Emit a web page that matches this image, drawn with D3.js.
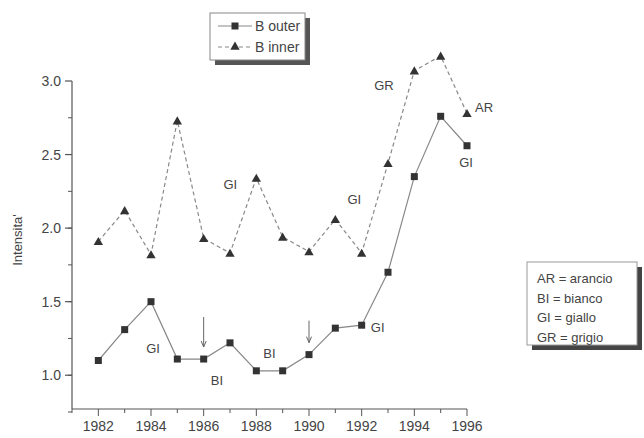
<!DOCTYPE html>
<html>
<head>
<meta charset="UTF-8">
<title>Intensita B outer / B inner</title>
<script src="https://cdn.jsdelivr.net/npm/d3@7"></script>
<style>
  body { margin: 0; background: #fff; }
  text { font-family: Arial, "Liberation Sans", sans-serif; fill: #444; }
</style>
</head>
<body>
<svg id="chart" width="644" height="438"></svg>
<script>
// data
var years = [1982, 1983, 1984, 1985, 1986, 1987, 1988, 1989, 1990, 1991, 1992, 1993, 1994, 1995, 1996];
var bOuter = [1.10, 1.31, 1.50, 1.11, 1.11, 1.22, 1.03, 1.03, 1.14, 1.32, 1.34, 1.70, 2.35, 2.76, 2.56];
var bInner = [1.91, 2.12, 1.82, 2.73, 1.93, 1.83, 2.34, 1.94, 1.84, 2.06, 1.83, 2.44, 3.07, 3.17, 2.78];
var yTicks = [1.0, 1.5, 2.0, 2.5, 3.0];
var xTicks = [1982, 1984, 1986, 1988, 1990, 1992, 1994, 1996];

// colour annotations: [year, value, text, dx, dy]
var notes = [
  [1984, 1.50, "GI", 2, 46],
  [1987, 1.22, "BI", -13, 37],
  [1988.5, 1.03, "BI", 0, -18],
  [1992, 1.34, "GI", 16, 2],
  [1988, 2.34, "GI", -26, 6],
  [1991, 2.06, "GI", 19, -20],
  [1993, 2.44, "GR", -4, -78],
  [1996, 2.78, "AR", 17, -6],
  [1996, 2.56, "GI", -1, 16]
];
var arrows = [[1986, 1.11], [1990, 1.14]];
var legendKey = ["AR = arancio", "BI = bianco", "GI = giallo", "GR = grigio"];

var svg = d3.select("#chart");
var x = d3.scaleLinear().domain([1981, 1996]).range([72, 467]);
var y = d3.scaleLinear().domain([0.75, 3.0]).range([412, 81]);
var ax = 409; // x axis line position

// y axis
var gy = svg.append("g").attr("transform", "translate(72,0)");
gy.append("line").attr("x1", 0).attr("x2", 0).attr("y1", y(3.0)).attr("y2", ax)
  .attr("stroke", "#555").attr("stroke-width", 1.2);
gy.selectAll(".minor").data(d3.range(0.75, 3.0, 0.25)).enter().append("line")
  .attr("x1", -4).attr("x2", 0).attr("y1", function (d) { return y(d); }).attr("y2", function (d) { return y(d); })
  .attr("stroke", "#555");
gy.selectAll(".major").data(yTicks).enter().append("line")
  .attr("x1", -7).attr("x2", 0).attr("y1", function (d) { return y(d); }).attr("y2", function (d) { return y(d); })
  .attr("stroke", "#555").attr("stroke-width", 1.2);
gy.selectAll(".lab").data(yTicks).enter().append("text")
  .attr("x", -11).attr("y", function (d) { return y(d) + 5; })
  .attr("text-anchor", "end").attr("font-size", 14)
  .text(function (d) { return d.toFixed(1); });

// x axis
var gx = svg.append("g").attr("transform", "translate(0," + ax + ")");
gx.append("line").attr("x1", 72).attr("x2", x(1996)).attr("y1", 0).attr("y2", 0)
  .attr("stroke", "#555").attr("stroke-width", 1.2);
gx.selectAll(".minor").data(d3.range(1981, 1997)).enter().append("line")
  .attr("x1", function (d) { return x(d); }).attr("x2", function (d) { return x(d); })
  .attr("y1", 0).attr("y2", function (d) { return d % 2 === 0 ? 7 : 4; })
  .attr("stroke", "#555");
gx.selectAll(".lab").data(xTicks).enter().append("text")
  .attr("x", function (d) { return x(d); }).attr("y", 22)
  .attr("text-anchor", "middle").attr("font-size", 14)
  .text(function (d) { return d; });

svg.append("text")
  .attr("transform", "translate(22,240) rotate(-90)")
  .attr("text-anchor", "middle").attr("font-size", 13)
  .text("Intensita'");

// lines
var line = d3.line().x(function (d, i) { return x(years[i]); }).y(function (d) { return y(d); });
svg.append("path").datum(bInner).attr("d", line)
  .attr("fill", "none").attr("stroke", "#888").attr("stroke-width", 1.2).attr("stroke-dasharray", "4,3");
svg.append("path").datum(bOuter).attr("d", line)
  .attr("fill", "none").attr("stroke", "#888").attr("stroke-width", 1.2);

var tri = d3.symbol().type(d3.symbolTriangle).size(38);
svg.selectAll(".tri").data(bInner).enter().append("path")
  .attr("d", tri)
  .attr("transform", function (d, i) { return "translate(" + x(years[i]) + "," + (y(d) + 1) + ")"; })
  .attr("fill", "#333");
svg.selectAll(".sq").data(bOuter).enter().append("rect")
  .attr("x", function (d, i) { return x(years[i]) - 3.5; })
  .attr("y", function (d) { return y(d) - 3.5; })
  .attr("width", 7).attr("height", 7).attr("fill", "#333");

// annotations
svg.selectAll(".note").data(notes).enter().append("text")
  .attr("x", function (d) { return x(d[0]) + d[3]; })
  .attr("y", function (d) { return y(d[1]) + d[4] + 5; })
  .attr("text-anchor", "middle").attr("font-size", 13)
  .text(function (d) { return d[2]; });

arrows.forEach(function (a) {
  var ax0 = x(a[0]), top = y(a[1]) - 42 + (a[0] === 1990 ? 8 : 0), tip = y(a[1]) - 12;
  svg.append("line").attr("x1", ax0).attr("x2", ax0).attr("y1", top).attr("y2", tip)
    .attr("stroke", "#666").attr("stroke-width", 1);
  svg.append("path").attr("d", "M" + (ax0 - 2.5) + "," + (tip - 6) + "L" + ax0 + "," + tip + "L" + (ax0 + 2.5) + "," + (tip - 6))
    .attr("fill", "none").attr("stroke", "#666");
});

// series legend
var lg = svg.append("g").attr("transform", "translate(210,13)");
lg.append("rect").attr("x", 5).attr("y", 5).attr("width", 95).attr("height", 47).attr("fill", "#555");
lg.append("rect").attr("x", 0).attr("y", 0).attr("width", 95).attr("height", 47)
  .attr("fill", "#fff").attr("stroke", "#888");
lg.append("line").attr("x1", 8).attr("x2", 42).attr("y1", 13).attr("y2", 13).attr("stroke", "#888");
lg.append("rect").attr("x", 21.5).attr("y", 9.5).attr("width", 7).attr("height", 7).attr("fill", "#333");
lg.append("line").attr("x1", 8).attr("x2", 42).attr("y1", 34).attr("y2", 34)
  .attr("stroke", "#888").attr("stroke-dasharray", "4,3");
lg.append("path").attr("d", tri).attr("transform", "translate(25,34)").attr("fill", "#333");
lg.append("text").attr("x", 45).attr("y", 18).attr("font-size", 14).text("B outer");
lg.append("text").attr("x", 45).attr("y", 39).attr("font-size", 14).text("B inner");

// colour key
var kg = svg.append("g").attr("transform", "translate(527,262)");
kg.append("rect").attr("x", 5).attr("y", 5).attr("width", 110).attr("height", 83).attr("fill", "#444");
kg.append("rect").attr("x", 0).attr("y", 0).attr("width", 110).attr("height", 83)
  .attr("fill", "#fff").attr("stroke", "#999");
kg.selectAll("text").data(legendKey).enter().append("text")
  .attr("x", 10).attr("y", function (d, i) { return 21 + i * 19.5; })
  .attr("font-size", 13)
  .text(function (d) { return d; });
</script>
</body>
</html>
